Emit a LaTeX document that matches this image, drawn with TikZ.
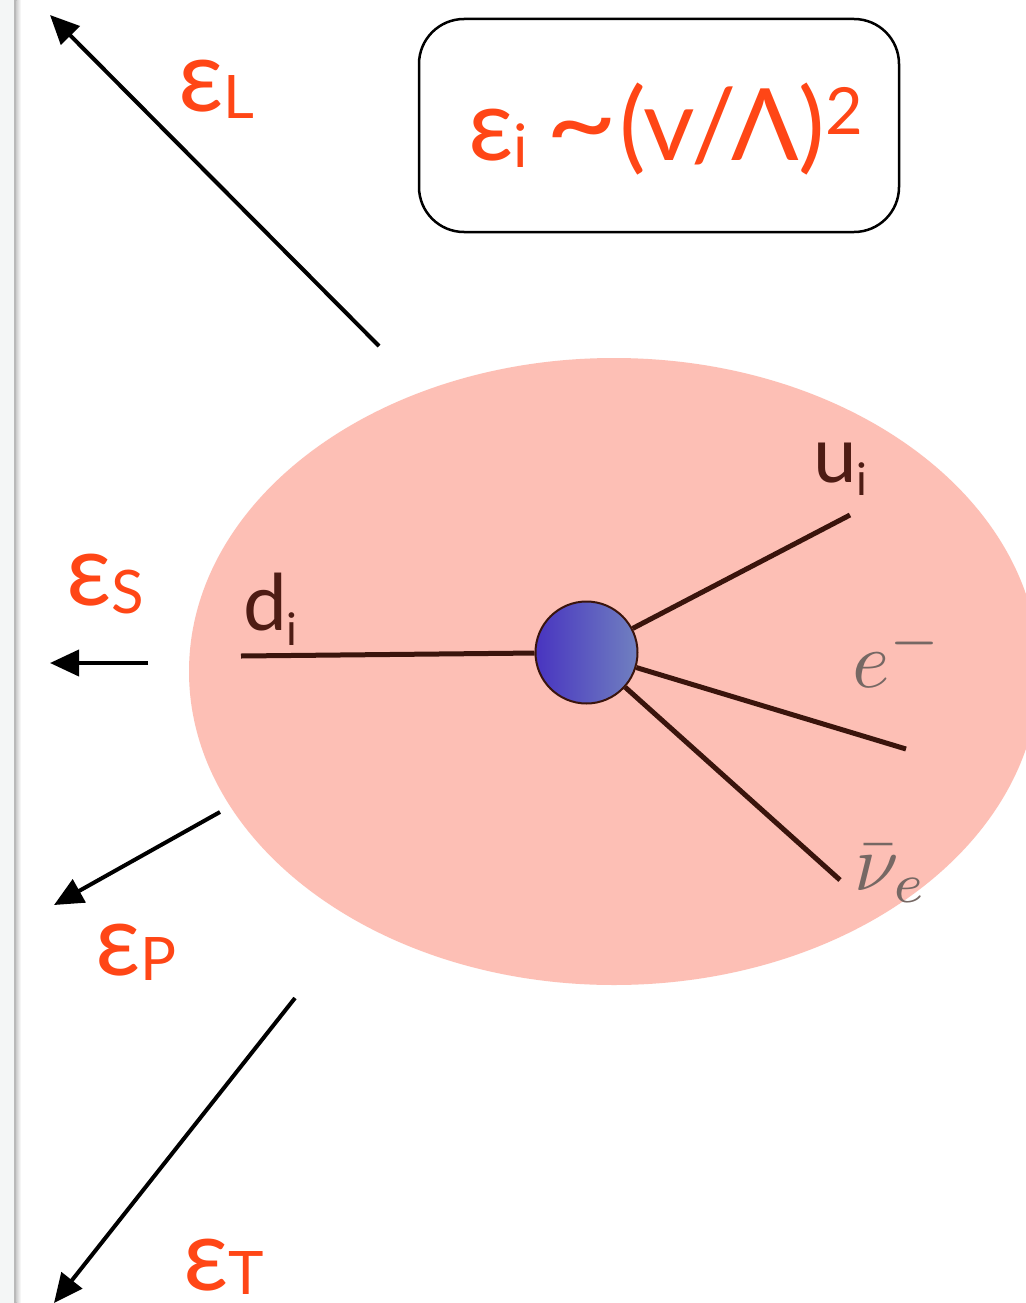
\documentclass[tikz,border=0pt]{standalone}
\usepackage{graphicx}
\usepackage{fontspec}
\setmainfont{Lato}
\usetikzlibrary{arrows.meta}
\definecolor{epsred}{RGB}{255,70,22}
\definecolor{blobpink}{RGB}{253,191,181}
\definecolor{flinecol}{RGB}{58,20,12}
\definecolor{quarkcol}{RGB}{78,28,20}
\definecolor{lepgray}{RGB}{118,104,100}
\definecolor{blobL}{RGB}{72,52,192}
\definecolor{blobR}{RGB}{112,128,192}
\definecolor{stripcol}{RGB}{244,246,246}
\newcommand{\fsz}[1]{\fontsize{#1}{#1}\selectfont}
\begin{document}
\begin{tikzpicture}[x=1pt,y=-1pt,
  bigarrow/.style={line width=4pt,-{Triangle[length=29pt,width=26pt]}},
  fline/.style={draw=flinecol,line width=5pt},
  epslabel/.style={text=epsred,inner sep=0pt,anchor=base west},
  partlabel/.style={inner sep=0pt,anchor=base west}]
\useasboundingbox (0,0) rectangle (1025,1303);
\fill[white] (0,0) rectangle (1025,1303);
% left strip
\fill[stripcol] (0,0) rectangle (14,1303);
\fill[gray!55] (14,0) rectangle (16.5,1303);
\shade[left color=gray!35,right color=white] (16.5,0) rectangle (21,1303);
% blob
\fill[blobpink] (614,671.5) ellipse [x radius=425pt, y radius=313.5pt];
% formula box
\node[draw=black,line width=2.5pt,rounded corners=45pt,minimum width=480pt,minimum height=213pt,inner sep=0pt] (box) at (659,125.5) {};
\node[epslabel] (formula) at (468,160) {\fsz{100}ε\raisebox{-8pt}{\fsz{60}i}\hspace{18pt}\scalebox{1.25}[1.1]{\textasciitilde}\hspace{1pt}(v/Λ)\raisebox{25pt}{\fsz{65}2}};
% vertex
\node[circle,minimum size=102pt,inner sep=0pt,draw=flinecol,line width=2pt,left color=blobL,right color=blobR] (v) at (586.5,652.5) {};
\coordinate (dend) at (241,656);
\coordinate (uend) at (850,515);
\coordinate (eend) at (906,749);
\coordinate (nend) at (840,880);
\draw[fline] (v) -- (dend);
\draw[fline] (v) -- (uend);
\draw[fline] (v) -- (eend);
\draw[fline] (v) -- (nend);
\node[partlabel,text=quarkcol] (dl) at (243,630) {\fsz{78}d\raisebox{-15pt}{\fsz{45}i}};
\node[partlabel,text=quarkcol] (ul) at (813,482) {\fsz{78}u\raisebox{-13pt}{\fsz{45}i}};
\node[partlabel,text=lepgray] (el) at (852,687) {\scalebox{8}{$e^-$}};
\node[partlabel,text=lepgray] (nl) at (854,890) {\scalebox{8}{$\bar\nu_e$}};
% arrows
\coordinate (Ls) at (379,346); \coordinate (Le) at (50,15);
\coordinate (Ss) at (148,663); \coordinate (Se) at (50,663);
\coordinate (Ps) at (220,812); \coordinate (Pe) at (54,905);
\coordinate (Ts) at (295,998); \coordinate (Te) at (54,1303);
\draw[bigarrow] (Ls) -- (Le);
\draw[bigarrow] (Ss) -- (Se);
\draw[bigarrow] (Ps) -- (Pe);
\draw[bigarrow] (Ts) -- (Te);
% epsilon labels
\node[epslabel] (epsL) at (178,112) {\fsz{100}ε\raisebox{-6pt}{\fsz{60}L}};
\node[epslabel] (epsS) at (66,605) {\fsz{100}ε\raisebox{-8pt}{\fsz{60}S}};
\node[epslabel] (epsP) at (95,975) {\fsz{100}ε\raisebox{-5pt}{\fsz{60}P}};
\node[epslabel] (epsT) at (183,1290) {\fsz{100}ε\raisebox{-4pt}{\fsz{60}T}};
\end{tikzpicture}
\end{document}
